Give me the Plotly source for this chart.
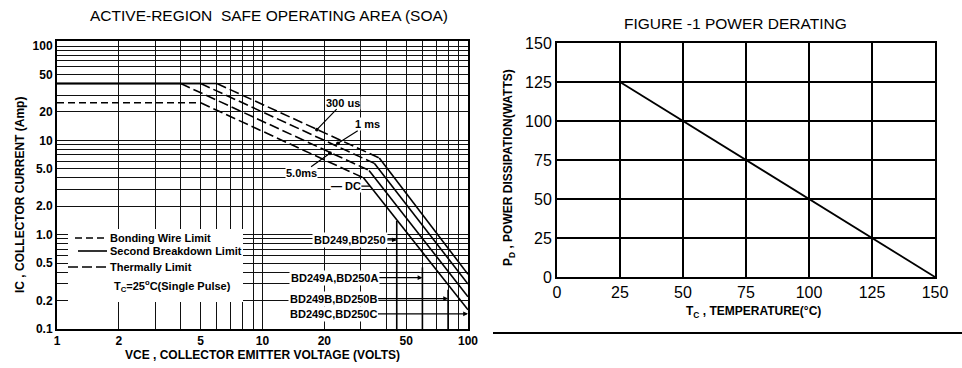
import math
import plotly.graph_objects as go

# ---------------- data: SOA (left chart) ----------------
soa_curves = ["300 us", "1 ms", "5.0 ms", "DC"]
soa_ic_limit = [40, 40, 40, 25]          # current-limit level (A)
soa_v_limit_end = [6.0, 5.0, 4.0, 5.0]    # VCE where current limit ends (V)
soa_v_sb_start = [37, 35, 33, 31]         # VCE where second breakdown starts (V)
soa_ic_sb_start = [6.5, 5.7, 4.8, 4.0]    # IC at that point (A)
soa_v_end = [100, 100, 100, 100]
soa_ic_end = [0.38, 0.30, 0.22, 0.16]

# curve label leader tips (VCE, IC)
curve_label_text = ["300 us", "1 ms", "5.0ms", "— DC"]
curve_label_v = [18.4, 23.3, 21.3, 33.3]
curve_label_ic = [13.0, 9.3, 7.3, 3.27]

# VCEO limits
vceo_labels = ["BD249,BD250", "BD249A,BD250A", "BD249B,BD250B", "BD249C,BD250C"]
vceo_values = [45, 60, 80, 100]
vceo_label_ic = [0.88, 0.35, 0.21, 0.145]
vceo_line_top = [1.4, 0.45, 0.26, 0.16]

soa_x_ticks = [1, 2, 5, 10, 20, 50, 100]
soa_x_labels = ["1", "2", "5", "10", "20", "50", "100"]
soa_y_ticks = [0.1, 0.2, 0.5, 1, 2, 5, 10, 20, 50, 100]
soa_y_labels = ["0.1", "0.2", "0.5", "1.0", "2.0", "5.0", "10", "20", "50", "100"]

# ---------------- data: power derating (right chart) ----------------
derating_temp = [25, 50, 75, 100, 125, 150]
derating_power = [125, 100, 75, 50, 25, 0]
derating_ticks = [0, 25, 50, 75, 100, 125, 150]

W, H = 962, 368
def px(x):
    return x / W
def py(y):
    return 1 - y / H

BOLD = "Liberation Sans, Arial, sans-serif"
fig = go.Figure()

LONGDASH = "10px,4px"
SHORTDASH = "7px,4px"

for i, name in enumerate(soa_curves):
    fig.add_trace(go.Scatter(
        x=[1, soa_v_limit_end[i]], y=[soa_ic_limit[i], soa_ic_limit[i]],
        mode="lines", line=dict(color="black", width=1.6,
                                dash=("solid" if soa_ic_limit[i] == 40 else SHORTDASH)),
        xaxis="x", yaxis="y", showlegend=False, hoverinfo="skip"))
    fig.add_trace(go.Scatter(
        x=[soa_v_limit_end[i], soa_v_sb_start[i]], y=[soa_ic_limit[i], soa_ic_sb_start[i]],
        mode="lines", line=dict(color="black", width=1.6, dash=LONGDASH),
        xaxis="x", yaxis="y", showlegend=False, hoverinfo="skip"))
    fig.add_trace(go.Scatter(
        x=[soa_v_sb_start[i], soa_v_end[i]], y=[soa_ic_sb_start[i], soa_ic_end[i]],
        mode="lines", line=dict(color="black", width=1.6),
        xaxis="x", yaxis="y", showlegend=False, hoverinfo="skip"))

for i, v in enumerate(vceo_values[:3]):
    fig.add_trace(go.Scatter(
        x=[v, v], y=[0.1, vceo_line_top[i]], mode="lines",
        line=dict(color="black", width=1.6),
        xaxis="x", yaxis="y", showlegend=False, hoverinfo="skip"))

fig.add_trace(go.Scatter(
    x=derating_temp, y=derating_power, mode="lines",
    line=dict(color="black", width=1.8),
    xaxis="x2", yaxis="y2", showlegend=False, hoverinfo="skip"))

annotations = []
curve_offsets = [(26, -27), (30, -19), (-28, 20), (-24, 0)]
for i, t in enumerate(curve_label_text):
    ax, ay = curve_offsets[i]
    annotations.append(dict(
        x=math.log10(curve_label_v[i]), y=math.log10(curve_label_ic[i]),
        xref="x", yref="y", text=t, showarrow=True,
        ax=ax, ay=ay, arrowhead=6 if i < 3 else 0, arrowsize=0.8, arrowwidth=1.2,
        arrowcolor="black", standoff=0,
        font=dict(family=BOLD, size=11, color="black", weight="bold"),
        bgcolor="white", borderpad=0))

label_offsets = [-47, -88, -115, -135]
for i, t in enumerate(vceo_labels):
    annotations.append(dict(
        x=math.log10(vceo_values[i]), y=math.log10(vceo_label_ic[i]),
        xref="x", yref="y", text=t, showarrow=True,
        ax=label_offsets[i], ay=0, arrowhead=2, arrowsize=0.8, arrowwidth=1.2,
        arrowcolor="black", standoff=0,
        font=dict(family=BOLD, size=11, color="black", weight="bold"),
        bgcolor="white", borderpad=1))

legend_rows = [("Bonding Wire Limit", 238, 75, SHORTDASH),
               ("Second Breakdown Limit", 251, 78, "solid"),
               ("Thermally Limit", 267, 68, LONGDASH)]
shapes = [dict(type="rect", xref="paper", yref="paper",
               x0=px(68), x1=px(243), y0=py(302), y1=py(229),
               fillcolor="white", line=dict(width=0), layer="above")]
for text, yy, x0, dash in legend_rows:
    shapes.append(dict(type="line", xref="paper", yref="paper",
                       x0=px(x0), x1=px(107), y0=py(yy), y1=py(yy),
                       line=dict(color="black", width=1.6, dash=dash), layer="above"))
    annotations.append(dict(x=px(108), y=py(yy), xref="paper", yref="paper",
                            text=text, showarrow=False, xanchor="left", yanchor="middle",
                            font=dict(family=BOLD, size=11, color="black", weight="bold")))
annotations.append(dict(x=px(112), y=py(286), xref="paper", yref="paper",
                        text="T<sub>C</sub>=25<sup>o</sup>C(Single Pulse)", showarrow=False,
                        xanchor="left", yanchor="middle",
                        font=dict(family=BOLD, size=11, color="black", weight="bold")))

def title(x, y, text, size, bold, angle=0):
    f = dict(family=BOLD, size=size, color="black")
    if bold:
        f["weight"] = "bold"
    return dict(x=px(x), y=py(y), xref="paper", yref="paper", showarrow=False,
                xanchor="center", yanchor="middle", textangle=angle, text=text, font=f)

annotations += [
    title(269, 15, "ACTIVE-REGION  SAFE OPERATING AREA (SOA)", 15.5, False),
    title(262, 355, "VCE , COLLECTOR EMITTER VOLTAGE (VOLTS)", 12, True),
    title(20, 195, "IC , COLLECTOR CURRENT (Amp)", 12, True, -90),
    title(735, 23, "FIGURE -1 POWER DERATING", 15.5, False),
    title(753, 312, "T<sub>C</sub> , TEMPERATURE(°C)", 12, True),
    title(509, 168, "P<sub>D</sub> , POWER DISSIPATION(WATTS)", 12, True, -90),
]

shapes.append(dict(type="line", xref="paper", yref="paper",
                   x0=px(493), x1=1, y0=py(333), y1=py(333),
                   line=dict(color="black", width=2)))

minor_grid = dict(dtick="D1", showgrid=True, gridcolor="#111", gridwidth=1, ticks="")

fig.update_layout(
    width=W, height=H, margin=dict(l=0, r=0, t=0, b=0, autoexpand=False),
    paper_bgcolor="white", plot_bgcolor="white", showlegend=False,
    xaxis=dict(type="log", domain=[px(57), px(468)], range=[0, 2],
               tickvals=soa_x_ticks, ticktext=soa_x_labels, minor=minor_grid,
               showgrid=True, gridcolor="#111", gridwidth=1,
               showline=True, mirror=True, linecolor="black", linewidth=2,
               ticks="", zeroline=False,
               tickfont=dict(family=BOLD, size=12, color="black", weight="bold"),
               anchor="y"),
    yaxis=dict(type="log", domain=[py(329), py(41)], range=[-1, 2.053],
               tickvals=soa_y_ticks, ticktext=soa_y_labels, minor=minor_grid,
               showgrid=True, gridcolor="#111", gridwidth=1,
               showline=True, mirror=True, linecolor="black", linewidth=2,
               ticks="", zeroline=False,
               tickfont=dict(family=BOLD, size=12, color="black", weight="bold"),
               anchor="x"),
    xaxis2=dict(domain=[px(557), px(935)], range=[0, 150],
                tickvals=derating_ticks,
                showgrid=True, gridcolor="black", gridwidth=1.5,
                showline=True, mirror=True, linecolor="black", linewidth=2,
                ticks="", zeroline=False,
                tickfont=dict(family=BOLD, size=16, color="black"),
                anchor="y2"),
    yaxis2=dict(domain=[py(277), py(43)], range=[0, 150],
                tickvals=derating_ticks,
                showgrid=True, gridcolor="black", gridwidth=1.5,
                showline=True, mirror=True, linecolor="black", linewidth=2,
                ticks="", zeroline=False,
                tickfont=dict(family=BOLD, size=16, color="black"),
                anchor="x2"),
    annotations=annotations, shapes=shapes,
)

fig.write_html("out.html", config={"displayModeBar": False},
               post_script="document.body.style.margin='0px';document.body.style.overflow='hidden';")
